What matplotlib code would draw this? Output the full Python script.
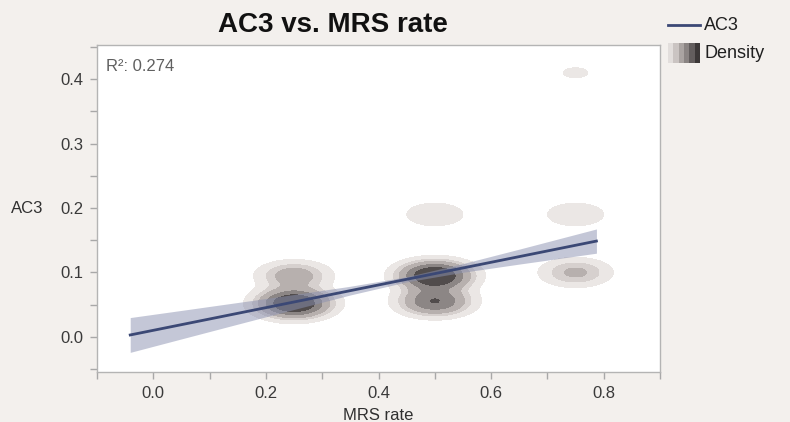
import numpy as np
import matplotlib.pyplot as plt
from matplotlib.colors import ListedColormap
plt.switch_backend('agg')

plt.rcParams['font.family'] = ['Liberation Sans', 'DejaVu Sans']

# observed (MRS rate, AC3) positions and how many subjects sit on each
mrs_rate = [0.25, 0.25, 0.50, 0.50, 0.50, 0.75, 0.75, 0.75]
ac3 = [0.052, 0.095, 0.095, 0.055, 0.190, 0.190, 0.100, 0.410]
n_obs = [14, 5, 14, 9, 2, 2, 4, 1]

# fitted line and its confidence band
fit_x = [-0.041, 0.05, 0.15, 0.25, 0.35, 0.45, 0.55, 0.65, 0.787]
fit_y = [0.0030, 0.0190, 0.0366, 0.0542, 0.0718, 0.0894, 0.1070, 0.1246, 0.1487]
ci_lo = [-0.024, -0.0031, 0.0198, 0.0426, 0.0651, 0.0854, 0.1003, 0.1130, 0.1299]
ci_hi = [0.030, 0.0411, 0.0534, 0.0658, 0.0786, 0.0934, 0.1138, 0.1362, 0.1675]
r2 = 0.274

x_ticks = [0.0, 0.2, 0.4, 0.6, 0.8]
y_ticks = [0.0, 0.1, 0.2, 0.3, 0.4]
xlim = (-0.1, 0.9)
ylim = (-0.054, 0.453)

bg = '#f3f0ed'
grays = ['#ebe7e5', '#d6d0ce', '#b7b0ae', '#8c8685', '#514c4c']

fig = plt.figure(figsize=(7.9, 4.22), dpi=100, facecolor=bg)
ax = fig.add_axes([0.1228, 0.1192, 0.7127, 0.7742])
ax.set_facecolor('white')

# kernel density of the points
hx, hy = 0.038, 0.0134
gx = np.linspace(xlim[0], xlim[1], 600)
gy = np.linspace(ylim[0], ylim[1], 500)
X, Y = np.meshgrid(gx, gy)
dens = np.zeros_like(X)
for x, y, n in zip(mrs_rate, ac3, n_obs):
    dens += n * np.exp(-0.5 * ((X - x) / hx) ** 2 - 0.5 * ((Y - y) / hy) ** 2)
ax.contourf(X, Y, dens, levels=[0.85, 2.2, 3.5, 6, 9, 1000], colors=grays, zorder=1)

ax.fill_between(fit_x, ci_lo, ci_hi, color='#8a90b0', alpha=0.5, lw=0, zorder=2)
ax.plot(fit_x, fit_y, color='#3b4875', lw=2, zorder=3)

ax.set_xlim(*xlim)
ax.set_ylim(*ylim)
ax.set_xticks(x_ticks)
ax.set_yticks(y_ticks)
ax.set_xticks(np.arange(-0.1, 0.91, 0.1), minor=True)
ax.set_yticks(np.arange(-0.05, 0.46, 0.05), minor=True)
ax.set_xticklabels([f'{v:.1f}' for v in x_ticks])
ax.set_yticklabels([f'{v:.1f}' for v in y_ticks])
ax.tick_params(which='both', direction='out', length=5, width=1, color='#a8a8a8',
               labelsize=12, labelcolor='#3a3a3a', pad=5)
for s in ax.spines.values():
    s.set_color('#b4b4b4')
    s.set_linewidth(1)

ax.set_xlabel('MRS rate', fontsize=12, color='#303030', labelpad=5)
ax.set_ylabel('AC3', fontsize=12, color='#303030', rotation=0, ha='center', va='center')
ax.yaxis.set_label_coords(-0.124, (0.2 - ylim[0]) / (ylim[1] - ylim[0]))

ax.text(0.016, 0.935, f'R\u00b2: {r2}', transform=ax.transAxes, fontsize=12,
        color='#606060', ha='left', va='center')

fig.text(0.4215, 0.9408, 'AC3 vs. MRS rate', fontsize=20, fontweight='bold',
         color='#111111', ha='center', va='center')

# legend drawn by hand
fig.add_artist(plt.Line2D([668 / 790, 700 / 790], [1 - 25 / 422, 1 - 25 / 422],
                          color='#3b4875', lw=2))
fig.text(704 / 790, 1 - 25 / 422, 'AC3', fontsize=13, color='#202020', va='center')
lax = fig.add_axes([668 / 790, 1 - 63 / 422, 32 / 790, 20 / 422])
lax.imshow(np.arange(6)[None, :], aspect='auto',
           cmap=ListedColormap(['#e2dedc', '#cac4c2', '#aaa4a2', '#8a8483', '#635e5e', '#3c3838']))
lax.axis('off')
fig.text(704 / 790, 1 - 53 / 422, 'Density', fontsize=13, color='#202020', va='center')

fig.savefig('out.png', dpi=100, facecolor=bg)
